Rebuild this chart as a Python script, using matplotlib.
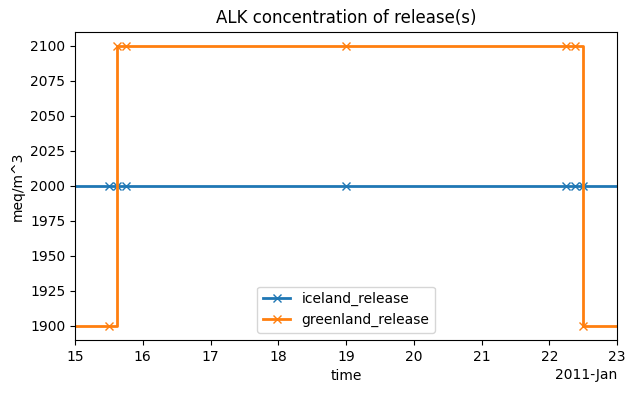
import datetime as dt
import matplotlib
matplotlib.use("Agg")
import matplotlib.pyplot as plt
import matplotlib.dates as mdates

# times as fractional days in Jan 2011
days = [15.0, 15.5, 15.625, 15.75, 19.0, 22.25, 22.375, 22.5, 23.0]
iceland = [2000, 2000, 2000, 2000, 2000, 2000, 2000, 2000, 2000]
greenland = [1900, 1900, 2100, 2100, 2100, 2100, 2100, 1900, 1900]

t0 = dt.datetime(2011, 1, 1)
times = [t0 + dt.timedelta(days=d - 1) for d in days]
marked = list(range(1, len(days) - 1))

fig, ax = plt.subplots(figsize=(6.35, 3.93), dpi=100)
ax.plot(times, iceland, marker="x", markevery=marked, lw=2,
        drawstyle="steps-post", label="iceland_release")
ax.plot(times, greenland, marker="x", markevery=marked, lw=2,
        drawstyle="steps-post", label="greenland_release")

locator = mdates.DayLocator()
ax.xaxis.set_major_locator(locator)
ax.xaxis.set_major_formatter(mdates.ConciseDateFormatter(locator))
ax.set_xlim(times[0], times[-1])

ax.set_title("ALK concentration of release(s)")
ax.set_xlabel("time")
ax.set_ylabel("meq/m^3")
ax.legend(loc="lower center")

fig.subplots_adjust(left=0.118, right=0.972, top=0.919, bottom=0.135)
fig.savefig("out.png")
